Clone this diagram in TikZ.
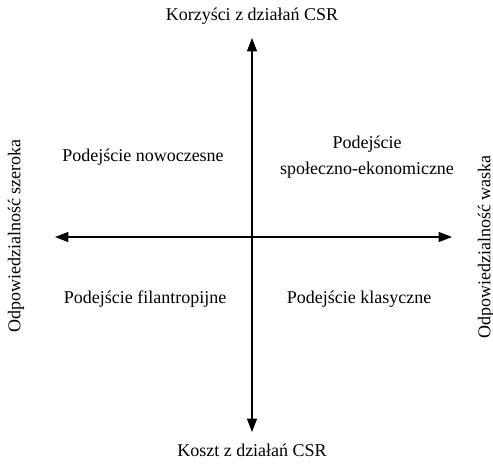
\documentclass[tikz,border=0pt]{standalone}
\usepackage{fontspec}
\setmainfont{Liberation Serif}
\usetikzlibrary{arrows.meta}
\begin{document}
\begin{tikzpicture}[x=0.75pt,y=-0.75pt,
  axis/.style={line width=0.85pt,-{Triangle[length=10pt,width=7.5pt]}},
  lbl/.style={font=\fontsize{13.5}{16}\selectfont,inner sep=0pt,align=center},
  sidelbl/.style={lbl,rotate=90}]
\useasboundingbox (0,0) rectangle (493,464);
% axis end points
\coordinate (top) at (252,38);
\coordinate (bottom) at (252,432);
\coordinate (left) at (55,237);
\coordinate (right) at (452,237);
\coordinate (origin) at (252,237);
% axes
\draw[axis] (origin) -- (top);
\draw[axis] (origin) -- (bottom);
\draw[axis] (origin) -- (left);
\draw[axis] (origin) -- (right);
% axis labels
\node[lbl] (ltop) at (252,16) {Korzyści z działań CSR};
\node[lbl] (lbottom) at (252,450) {Koszt z działań CSR};
\node[sidelbl] (lleft) at (16,236) {Odpowiedzialność szeroka};
\node[sidelbl] (lright) at (486,247) {Odpowiedzialność waska};
% quadrant labels
\node[lbl] (q1) at (143,157) {Podejście nowoczesne};
\node[lbl] (q2) at (367,157) {Podejście\\[3pt]społeczno-ekonomiczne};
\node[lbl] (q3) at (145,299) {Podejście filantropijne};
\node[lbl] (q4) at (359,299) {Podejście klasyczne};
\end{tikzpicture}
\end{document}
